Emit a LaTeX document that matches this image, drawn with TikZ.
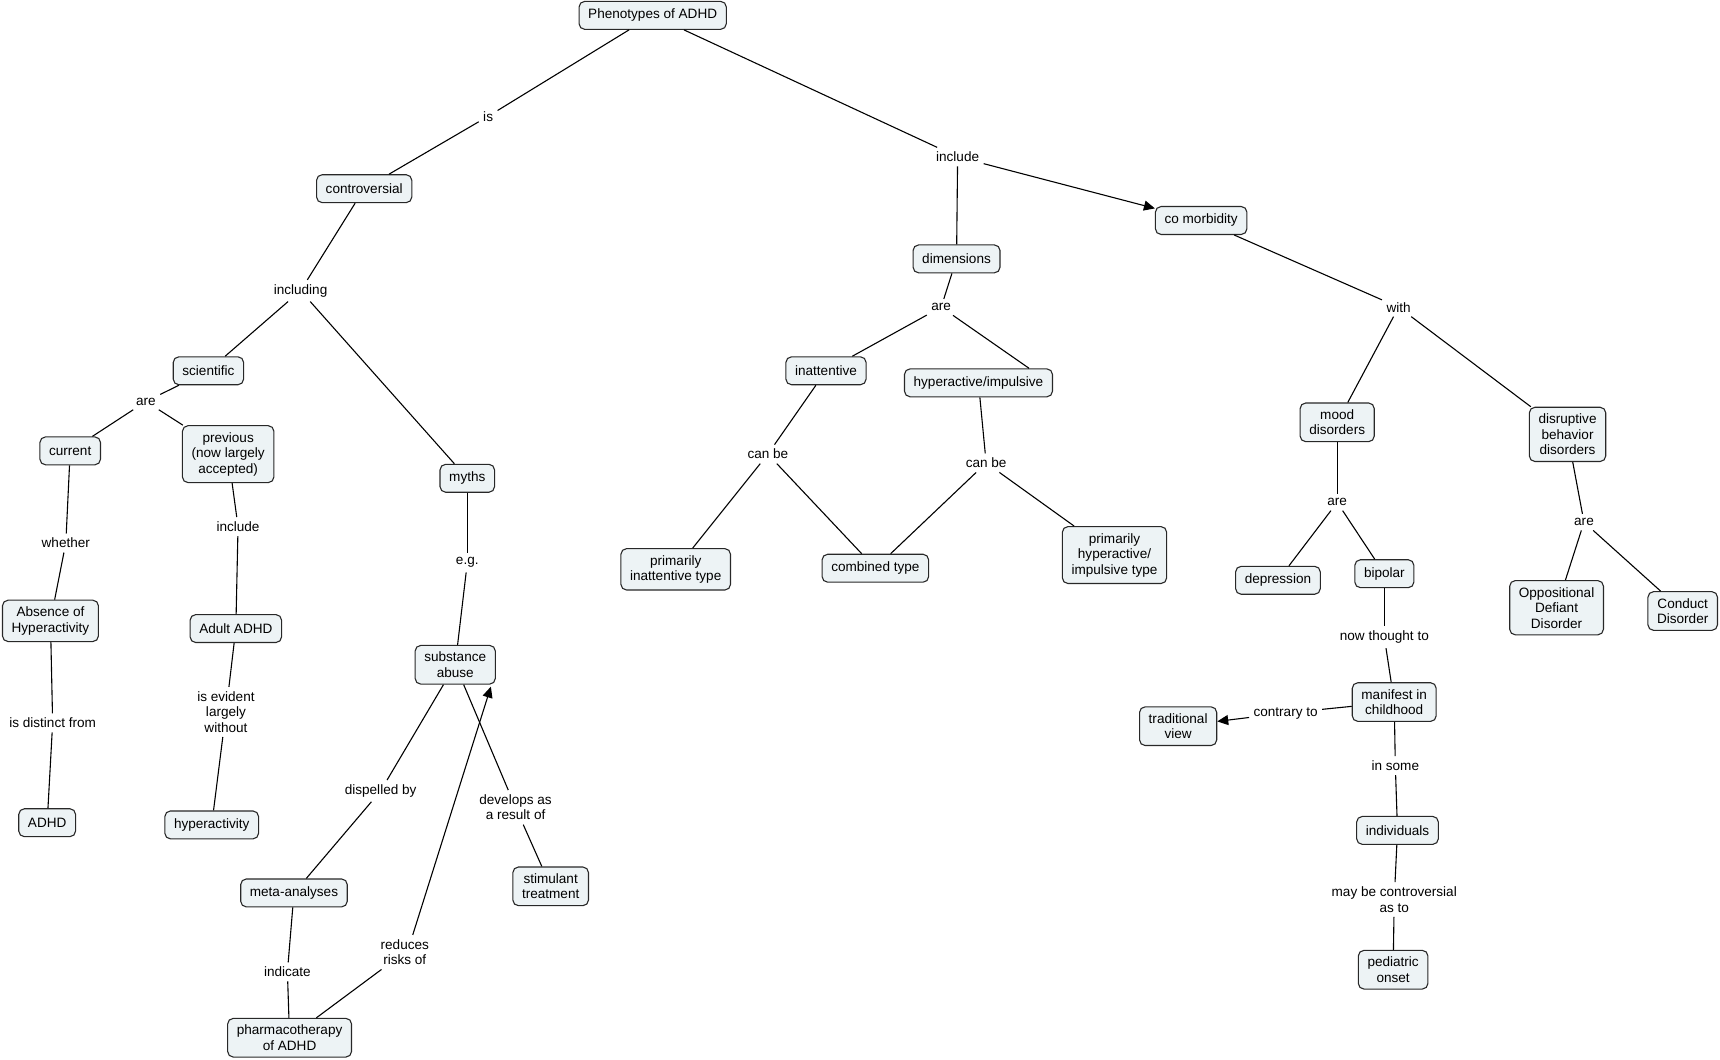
\documentclass[tikz,border=0pt]{standalone}
\usepackage{fontspec}
\setmainfont{Liberation Sans}
\usetikzlibrary{arrows.meta}
\definecolor{conceptfill}{RGB}{237,243,245}
\definecolor{conceptline}{RGB}{40,40,40}

\begin{document}
\begin{tikzpicture}[x=0.55pt, y=-0.55pt, line width=0.55pt,
    concept/.style={draw=conceptline, fill=conceptfill, rounded corners=2.8pt, align=center,
        inner xsep=4.6pt, inner ysep=3.3pt, minimum height=14pt, font=\fontsize{6.8}{7.8}\selectfont},
    linkword/.style={align=center, inner sep=2pt, font=\fontsize{6.8}{7.8}\selectfont},
    arr/.style={-{Triangle[length=5.5pt, width=5pt]}}]
    \useasboundingbox (0, 0) rectangle (1568, 966);

    % left branch
    \node[concept] (phen) at (595, 14) {Phenotypes of ADHD};
    \node[linkword] (is) at (445, 106) {is};
    \node[concept] (contro) at (332, 172) {controversial};
    \node[linkword] (including) at (274, 265) {including};
    \node[concept] (scient) at (190, 338) {scientific};
    \node[linkword] (are1) at (133, 366) {are};
    \node[concept] (current) at (64, 411) {current};
    \node[concept] (previous) at (208, 414) {previous\\(now largely\\accepted)};
    \node[linkword] (whether) at (60, 495) {whether};
    \node[concept] (absence) at (46, 566) {Absence of\\Hyperactivity};
    \node[linkword] (distinct) at (48, 659) {is distinct from};
    \node[concept] (adhd) at (43, 750) {ADHD};
    \node[linkword] (include1) at (217, 480) {include};
    \node[concept] (adult) at (215, 573) {Adult ADHD};
    \node[linkword] (evident) at (206, 649) {is evident\\largely\\without};
    \node[concept] (hyperact) at (193, 752) {hyperactivity};
    \node[concept] (myths) at (426, 436) {myths};
    \node[linkword] (eg) at (426, 513) {e.g.};
    \node[concept] (subst) at (415, 606) {substance\\abuse};
    \node[linkword] (dispelled) at (347, 721) {dispelled by};
    \node[concept] (meta) at (268, 814) {meta-analyses};
    \node[linkword] (indicate) at (262, 886) {indicate};
    \node[concept] (pharma) at (264, 946) {pharmacotherapy\\of ADHD};
    \node[linkword] (reduces) at (369, 868) {reduces\\risks of};
    \node[linkword] (develops) at (470, 736) {develops as\\a result of};
    \node[concept] (stimul) at (502, 808) {stimulant\\treatment};

    % middle branch
    \node[linkword] (include2) at (873, 143) {include};
    \node[concept] (dimen) at (872, 236) {dimensions};
    \node[linkword] (are2) at (858, 280) {are};
    \node[concept] (inatt) at (753, 338) {inattentive};
    \node[concept] (hypimp) at (892, 349) {hyperactive/impulsive};
    \node[linkword] (canbe1) at (700, 414) {can be};
    \node[linkword] (canbe2) at (899, 422) {can be};
    \node[concept] (priminatt) at (616, 519) {primarily\\inattentive type};
    \node[concept] (combined) at (798, 518) {combined type};
    \node[concept] (primhyp) at (1016, 506) {primarily\\hyperactive/\\impulsive type};

    % right branch
    \node[concept] (comorb) at (1095, 201) {co morbidity};
    \node[linkword] (with) at (1275, 280) {with};
    \node[concept] (mood) at (1219, 385) {mood\\disorders};
    \node[concept] (disrupt) at (1429, 396) {disruptive\\behavior\\disorders};
    \node[linkword] (are3) at (1219, 458) {are};
    \node[linkword] (are4) at (1444, 476) {are};
    \node[concept] (depress) at (1165, 529) {depression};
    \node[concept] (bipolar) at (1262, 523) {bipolar};
    \node[concept] (odd) at (1419, 554) {Oppositional\\Defiant\\Disorder};
    \node[concept] (conduct) at (1534, 557) {Conduct\\Disorder};
    \node[linkword] (thought) at (1262, 581) {now thought to};
    \node[concept] (manifest) at (1271, 640) {manifest in\\childhood};
    \node[linkword] (contrary) at (1172, 650) {contrary to};
    \node[concept] (tradview) at (1074, 662) {traditional\\view};
    \node[linkword] (insome) at (1272, 698) {in some};
    \node[concept] (indiv) at (1274, 757) {individuals};
    \node[linkword] (maybe) at (1271, 820) {may be controversial\\as to};
    \node[concept] (pediat) at (1270, 884) {pediatric\\onset};

    \draw (phen) to (is);
    \draw (is) to (contro);
    \draw (contro) to (including);
    \draw (including) to (scient);
    \draw (including) to (myths);
    \draw (scient) to (are1);
    \draw (are1) to (current);
    \draw (are1) to (previous);
    \draw (current) to (whether);
    \draw (whether) to (absence);
    \draw (absence) to (distinct);
    \draw (distinct) to (adhd);
    \draw (previous) to (include1);
    \draw (include1) to (adult);
    \draw (adult) to (evident);
    \draw (evident) to (hyperact);
    \draw (myths) to (eg);
    \draw (eg) to (subst);
    \draw (subst) to (dispelled);
    \draw (dispelled) to (meta);
    \draw (meta) to (indicate);
    \draw (indicate) to (pharma);
    \draw (pharma) to (reduces);
    \draw[arr] ([xshift=4pt]reduces.north) to ([xshift=-2.5pt, yshift=-1pt]subst.south east);
    \draw (subst) to (develops);
    \draw (develops) to (stimul);

    \draw (phen) to (include2);
    \draw (include2) to (dimen);
    \draw[arr] (include2) to (comorb);
    \draw (dimen) to (are2);
    \draw (are2) to (inatt);
    \draw (are2) to ([xshift=-12pt]hypimp.north east);
    \draw (inatt) to (canbe1);
    \draw (canbe1) to (priminatt);
    \draw (canbe1) to (combined);
    \draw (hypimp) to (canbe2);
    \draw (canbe2) to (combined);
    \draw (canbe2) to (primhyp);

    \draw (comorb) to (with);
    \draw (with) to (mood);
    \draw (with) to (disrupt);
    \draw (mood) to (are3);
    \draw (are3) to (depress);
    \draw (are3) to (bipolar);
    \draw (disrupt) to (are4);
    \draw (are4) to (odd);
    \draw (are4) to (conduct);
    \draw (bipolar) to (thought);
    \draw (thought) to (manifest);
    \draw (manifest) to (contrary);
    \draw[arr] (contrary) to (tradview);
    \draw (manifest) to (insome);
    \draw (insome) to (indiv);
    \draw (indiv) to (maybe);
    \draw (maybe) to (pediat);
\end{tikzpicture}
\end{document}
